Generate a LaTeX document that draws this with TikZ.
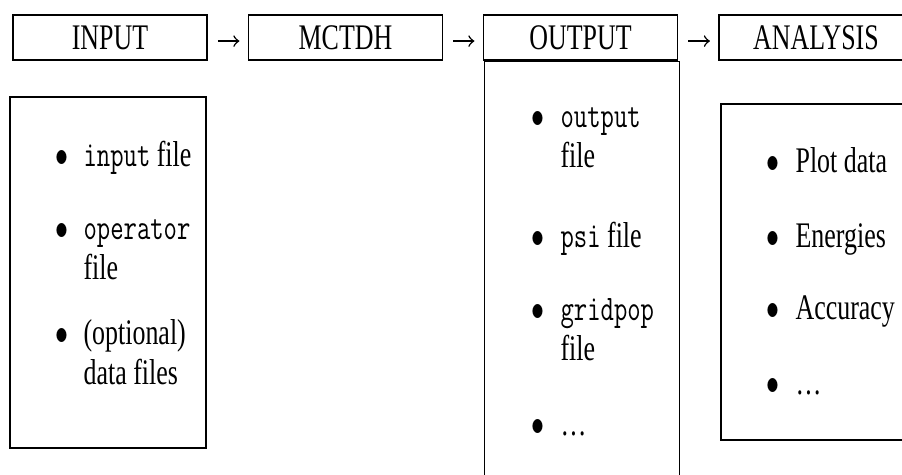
\documentclass[tikz,border=0pt]{standalone}
\usepackage{fontspec}
\setmainfont{Liberation Serif}[FakeStretch=0.72]
\setmonofont{Latin Modern Mono}[FakeStretch=0.72]

\newcommand\bul{\scalebox{0.72}[1]{$\bullet$}}

\begin{document}
\begin{tikzpicture}[x=0.3333pt,y=-0.3333pt,
  every node/.style={font=\fontsize{12}{13.3}\selectfont},
  head/.style={draw,line width=0.6pt,minimum width=64.7pt,minimum height=15pt,inner sep=0pt},
  panel/.style={draw,line width=0.6pt},
  dot/.style={anchor=base,inner sep=0pt},
  entry/.style={anchor=base west,inner sep=0pt},
  flow/.style={-to,line width=0.5pt,shorten <=3.3pt,shorten >=2.7pt}]
  \useasboundingbox (0,0) rectangle (902,475);
  \clip (0,0) rectangle (902,475);

  % the four stages
  \node[head] (input)    at (110,37.5)   {INPUT};
  \node[head] (mctdh)    at (345.5,37.5) {MCTDH};
  \node[head] (output)   at (580.5,37.5) {OUTPUT};
  \node[head] (analysis) at (816,37.5)   {ANALYSIS};

  \draw[flow] ([yshift=-1.2pt]input.east) -- ([yshift=-1.2pt]mctdh.west);
  \draw[flow] ([yshift=-1.2pt]mctdh.east) -- ([yshift=-1.2pt]output.west);
  \draw[flow] ([yshift=-1.2pt]output.east) -- ([yshift=-1.2pt]analysis.west);

  % boxes below the stages
  \draw[panel] (10,97) rectangle (206,448);
  \draw[panel] (484.5,61.5) rectangle (679.5,490);
  \draw[panel] (721,104) rectangle (915,440);

  \foreach \y/\txt [count=\i] in {167/{\texttt{input} file},
      240/{\texttt{operator}\\file}, 345/{(optional)\\data files}}
    {\node[dot] (in-dot-\i) at (62,\y) {\bul};
     \node[entry] (in-\i) at (83,\y) {\parbox[t]{60pt}{\raggedright\txt}};}

  \foreach \y/\txt [count=\i] in {128/{\texttt{output}\\file},
      248/{\texttt{psi} file}, 321/{\texttt{gridpop}\\file}, 436/{\dots}}
    {\node[dot] (out-dot-\i) at (538,\y) {\bul};
     \node[entry] (out-\i) at (560,\y) {\parbox[t]{60pt}{\raggedright\txt}};}

  \foreach \y/\txt [count=\i] in {173/{Plot data}, 248/{Energies},
      320/{Accuracy}, 395/{\dots}}
    {\node[dot] (an-dot-\i) at (773,\y) {\bul};
     \node[entry] (an-\i) at (795,\y) {\txt};}
\end{tikzpicture}
\end{document}
